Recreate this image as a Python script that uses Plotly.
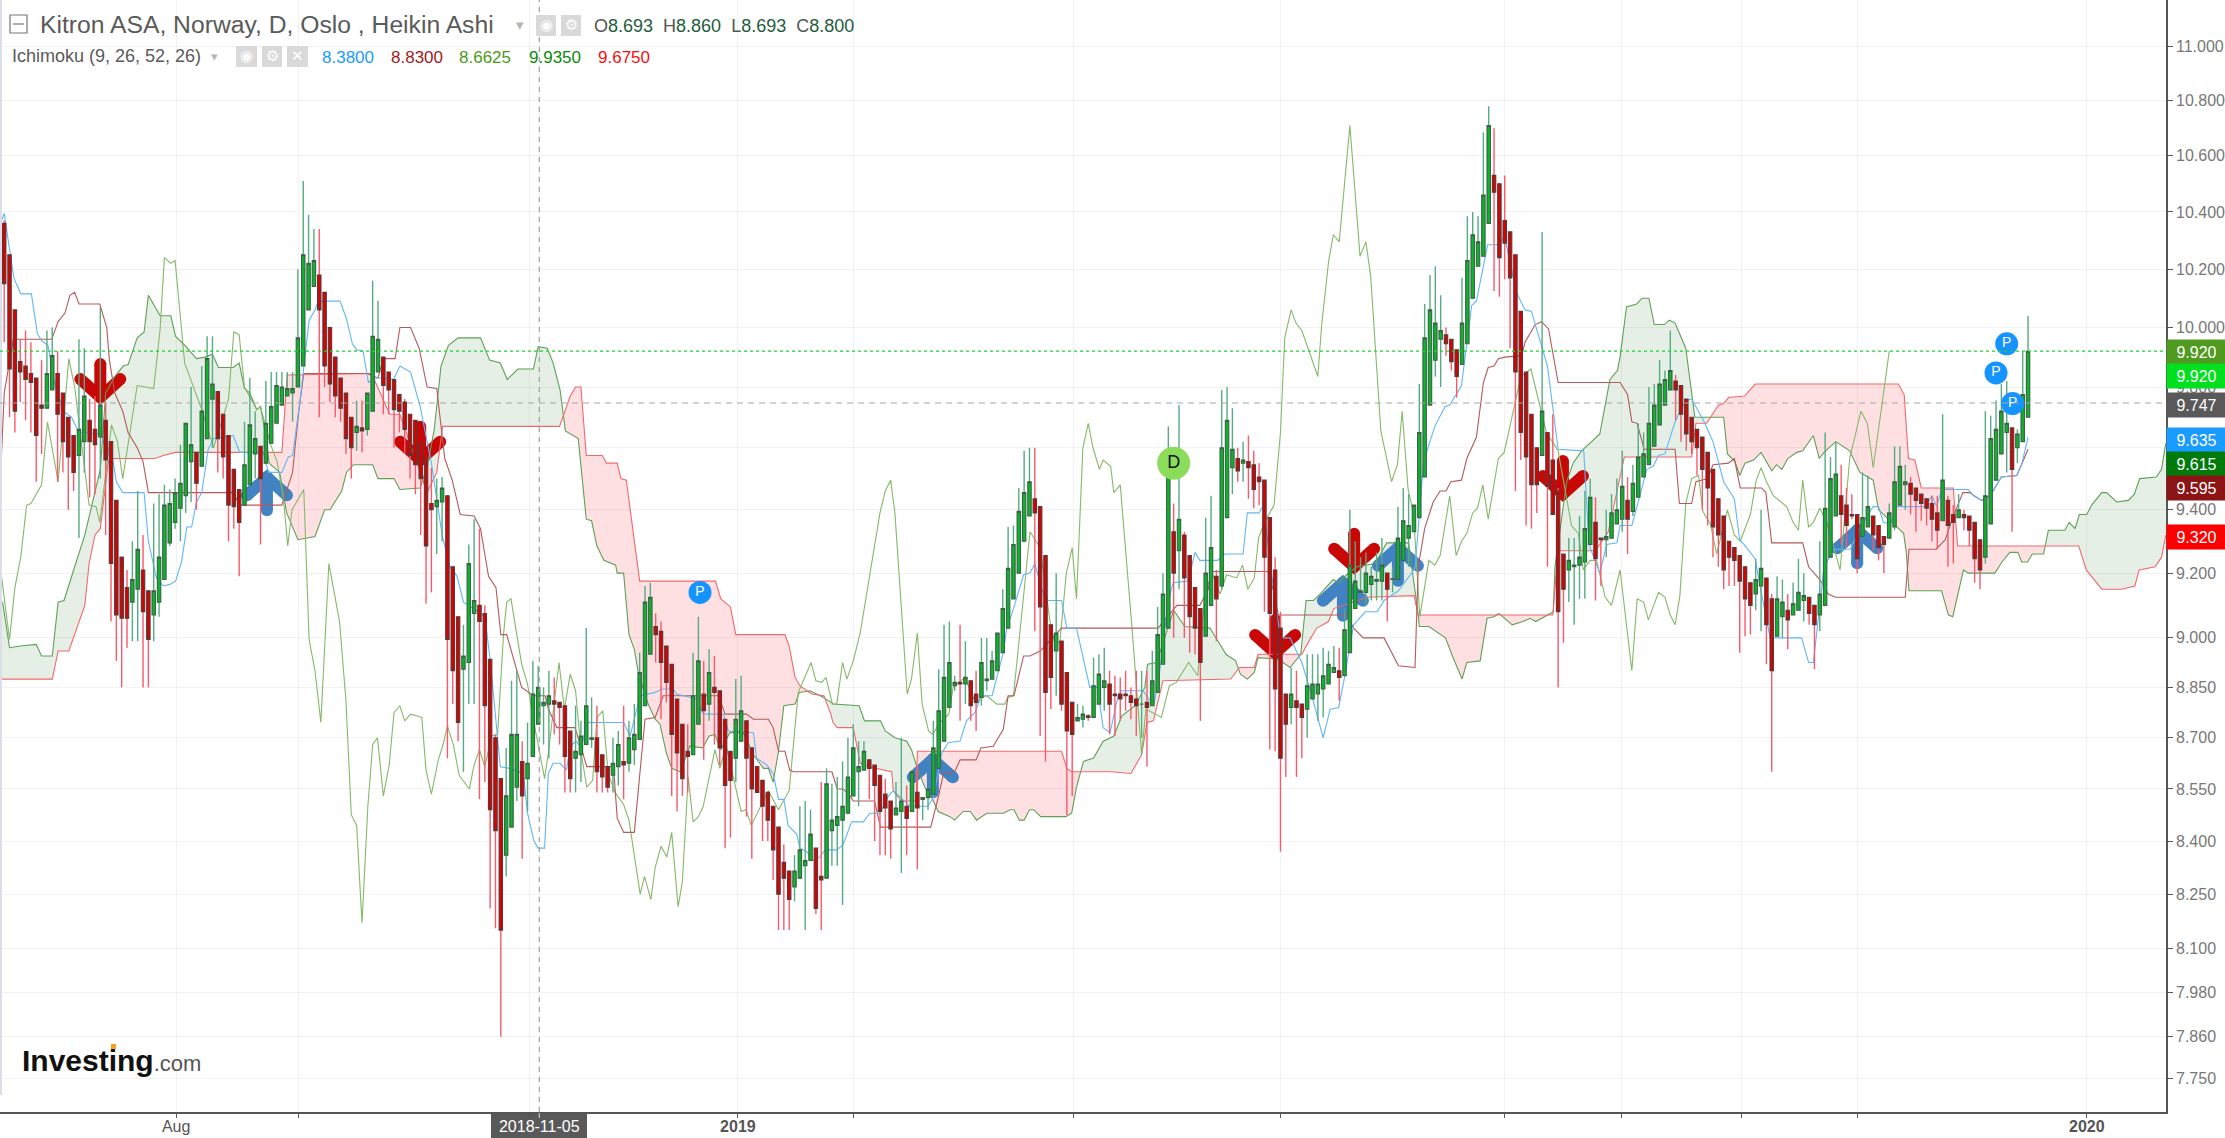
import math
import numpy as np
import plotly.graph_objects as go

# ---------- candle data: (open, high, low, close) ----------
bars_a = [(10.36,10.37,9.95,10.15),(10.25,10.25,9.70,9.86),(10.06,10.06,9.65,9.72),(9.885,9.96,9.75,9.85),(9.87,9.99,9.69,9.825),
(9.845,9.95,9.65,9.815),(9.83,9.83,9.49,9.64),(9.74,9.89,9.58,9.73),(9.73,9.99,9.73,9.845),(9.79,10.0,9.79,9.905),
(9.845,9.92,9.49,9.71),(9.78,9.78,9.52,9.62),(9.70,9.70,9.40,9.57),(9.64,9.64,9.46,9.52),(9.575,9.96,9.31,9.66),
(9.62,9.93,9.52,9.77),(9.69,9.76,9.44,9.62),(9.66,9.77,9.45,9.61),(9.635,10.07,9.5,9.74),(9.69,9.75,9.32,9.56),
(9.62,9.62,9.05,9.23),(9.43,9.43,8.93,9.07),(9.25,9.25,8.85,9.06),(9.155,9.21,8.97,9.06),(9.11,9.30,8.99,9.18),
(9.15,9.46,8.99,9.275),(9.21,9.32,8.85,9.08),(9.145,9.145,8.85,8.995),(9.07,9.42,8.99,9.145),(9.11,9.45,9.065,9.25),
(9.18,9.48,9.18,9.415),(9.295,9.465,9.285,9.42),(9.36,9.50,9.34,9.455),(9.405,9.61,9.30,9.485),(9.445,9.68,9.39,9.68),
(9.555,9.80,9.425,9.61),(9.585,9.585,9.40,9.485),(9.54,9.87,9.54,9.72),(9.63,9.97,9.63,9.895),(9.76,9.97,9.60,9.81),
(9.785,9.785,9.52,9.63),(9.71,9.71,9.50,9.57),(9.64,9.64,9.30,9.415),(9.53,9.53,9.34,9.41),(9.465,9.465,9.19,9.36),
(9.415,9.685,9.415,9.545),(9.48,9.83,9.48,9.675),(9.58,9.72,9.50,9.63),(9.605,9.605,9.29,9.50),(9.55,9.82,9.55,9.68),
(9.615,9.85,9.615,9.735),(9.68,9.85,9.68,9.805),(9.74,9.85,9.74,9.80),(9.77,9.85,9.77,9.795),(9.78,9.85,9.685,9.795),
(9.80,10.2,9.80,9.965),(9.87,10.51,9.87,10.25),(10.06,10.39,10.06,10.22),(10.14,10.34,10.14,10.23),(10.18,10.34,9.70,10.06),
(10.12,10.12,9.80,9.87),(10.0,10.0,9.75,9.81),(9.90,9.90,9.70,9.77),(9.83,9.83,9.685,9.73),(9.78,9.78,9.58,9.63),
(9.70,9.70,9.50,9.60),(9.65,9.755,9.59,9.67),(9.665,9.755,9.585,9.655),(9.66,9.78,9.64,9.78),(9.72,10.16,9.72,9.97),
(9.85,10.09,9.85,9.96),(9.90,9.90,9.71,9.805),(9.85,9.85,9.71,9.79),(9.825,9.825,9.60,9.725),(9.775,9.775,9.65,9.72),
(9.75,9.76,9.58,9.66)]
bars_b = [(9.71,9.71,9.50,9.575),(9.69,9.69,9.45,9.545),(9.615,9.615,9.32,9.50),(9.56,9.56,9.105,9.285),(9.42,9.535,9.14,9.40),
(9.41,9.50,9.26,9.43),(9.425,9.505,9.30,9.47),(9.445,9.445,8.64,8.995),(9.22,9.22,8.80,8.90),(9.065,9.065,8.69,8.745),
(8.905,9.04,8.60,8.945),(8.925,9.29,8.80,9.23),(9.075,9.37,8.80,9.115),(9.10,9.34,8.52,9.05),(9.075,9.10,8.57,8.795),
(8.935,8.935,8.21,8.49),(8.70,8.71,8.155,8.43),(8.58,8.58,7.86,8.15),(8.36,8.67,8.30,8.53),(8.44,8.87,8.44,8.71),
(8.555,8.90,8.515,8.71),(8.63,8.69,8.35,8.53),(8.58,8.745,8.485,8.625),(8.645,8.93,8.645,8.83),(8.74,8.915,8.74,8.85),
(8.795,8.85,8.68,8.805),(8.80,8.90,8.64,8.825),(8.81,8.88,8.71,8.80),(8.805,8.805,8.68,8.79),(8.795,8.795,8.54,8.645),
(8.72,8.72,8.54,8.58),(8.64,8.795,8.54,8.66),(8.65,8.75,8.57,8.705),(8.68,9.03,8.68,8.795),(8.695,8.82,8.67,8.70),
(8.70,8.795,8.54,8.60),(8.65,8.65,8.54,8.585),(8.615,8.615,8.54,8.555),(8.59,8.70,8.54,8.625),(8.615,8.72,8.56,8.68),
(8.63,8.795,8.52,8.62),(8.625,8.75,8.60,8.70),(8.665,8.80,8.62,8.71),(8.695,8.955,8.695,8.895),(8.795,9.16,8.795,9.11),
(8.95,9.17,8.95,9.125),(9.035,9.075,8.925,9.01),(9.02,9.05,8.755,8.925),(8.975,8.975,8.805,8.865),(8.92,8.92,8.53,8.71),
(8.815,8.815,8.485,8.655),(8.74,8.74,8.53,8.58),(8.66,8.74,8.54,8.645),(8.65,8.955,8.65,8.825),(8.74,9.065,8.74,8.93),
(8.83,8.93,8.635,8.78),(8.80,8.965,8.75,8.895),(8.85,8.945,8.68,8.835),(8.84,8.84,8.62,8.67),(8.755,8.755,8.38,8.56),
(8.66,8.66,8.41,8.575),(8.64,8.875,8.57,8.755),(8.69,8.885,8.69,8.78),(8.75,8.75,8.47,8.64),(8.67,8.67,8.35,8.55),
(8.615,8.615,8.54,8.54),(8.575,8.575,8.40,8.50),(8.54,8.54,8.40,8.46),(8.50,8.50,8.29,8.375),(8.44,8.44,8.15,8.25),
(8.34,8.39,8.15,8.295),(8.315,8.315,8.15,8.235),(8.27,8.36,8.23,8.315),(8.295,8.50,8.295,8.375),(8.33,8.515,8.15,8.345),
(8.345,8.49,8.345,8.42),(8.38,8.38,8.195,8.21)]
bars_c = [(8.30,8.57,8.15,8.29),(8.295,8.61,8.295,8.565),(8.43,8.565,8.33,8.46),(8.445,8.585,8.33,8.47),(8.46,8.63,8.22,8.50),
(8.48,8.70,8.48,8.585),(8.53,8.74,8.53,8.67),(8.60,8.69,8.50,8.615),(8.605,8.69,8.605,8.66),(8.635,8.635,8.52,8.61),
(8.62,8.62,8.40,8.56),(8.59,8.59,8.36,8.485),(8.535,8.58,8.36,8.495),(8.515,8.515,8.35,8.435),(8.475,8.57,8.475,8.495),
(8.485,8.70,8.31,8.515),(8.50,8.56,8.36,8.465),(8.485,8.60,8.485,8.60),(8.54,8.62,8.32,8.495),(8.52,8.525,8.46,8.525),
(8.525,8.55,8.49,8.55),(8.535,8.75,8.535,8.67),(8.61,8.905,8.61,8.78),(8.69,9.04,8.69,8.88),(8.79,9.05,8.79,8.925),
(8.855,8.885,8.84,8.865),(8.865,9.04,8.75,8.86),(8.86,8.99,8.80,8.88),(8.87,8.87,8.75,8.795),(8.83,8.90,8.72,8.805),
(8.82,9.00,8.795,8.925),(8.87,9.00,8.84,8.875),(8.875,8.96,8.875,8.93),(8.90,9.015,8.90,9.015),(8.955,9.15,8.955,9.09),
(9.03,9.345,9.03,9.215),(9.12,9.35,9.12,9.29),(9.2,9.47,9.2,9.395),(9.30,9.59,9.30,9.455),(9.38,9.60,9.38,9.49),
(9.435,9.60,9.02,9.39),(9.41,9.41,8.705,9.095),(9.255,9.255,8.63,8.835),(9.04,9.04,8.785,8.88),(8.96,9.2,8.825,9.015),
(8.99,8.99,8.78,8.80),(8.895,8.895,8.475,8.72),(8.805,8.805,8.53,8.71),(8.75,8.80,8.75,8.76),(8.755,8.795,8.73,8.77),
(8.765,8.77,8.75,8.76),(8.76,8.94,8.76,8.855),(8.80,8.95,8.80,8.89),(8.85,8.97,8.78,8.87),(8.86,8.90,8.71,8.80),
(8.83,8.885,8.705,8.825),(8.83,8.88,8.75,8.815),(8.83,8.90,8.78,8.825),(8.825,8.85,8.755,8.805),(8.815,8.90,8.705,8.795),
(8.80,8.90,8.70,8.80),(8.805,8.90,8.615,8.79),(8.795,8.96,8.795,8.87),(8.835,9.095,8.835,9.01),(8.92,9.2,8.92,9.135),
(9.03,9.67,9.03,9.505),(9.33,9.42,9.00,9.20),(9.27,9.74,9.15,9.37),(9.32,9.33,9.00,9.185),(9.255,9.255,8.955,9.065),
(9.155,9.155,8.95,9.03),(9.09,9.09,8.75,8.925),(9.005,9.375,9.005,9.2),(9.10,9.445,9.10,9.28),(9.19,9.21,8.99,9.12)]
bars_d = [(9.16,9.79,9.15,9.60),(9.375,9.80,9.375,9.69),(9.535,9.73,9.45,9.595),(9.565,9.60,9.49,9.525),(9.55,9.62,9.49,9.56),
(9.555,9.64,9.435,9.535),(9.545,9.59,9.405,9.465),(9.505,9.55,9.415,9.49),(9.495,9.495,9.08,9.25),(9.375,9.375,8.665,9.075),
(9.21,9.25,8.66,8.845),(9.03,9.08,8.37,8.64),(8.83,8.83,8.585,8.74),(8.79,8.91,8.74,8.83),(8.81,8.90,8.585,8.79),
(8.80,8.80,8.64,8.76),(8.785,8.95,8.70,8.855),(8.815,8.95,8.815,8.86),(8.83,8.95,8.75,8.86),(8.845,8.97,8.76,8.885),
(8.86,8.96,8.86,8.92),(8.895,8.975,8.895,8.91),(8.90,8.97,8.81,8.88),(8.885,9.09,8.885,9.025),(8.955,9.40,8.955,9.225),
(9.09,9.30,9.09,9.175),(9.14,9.25,9.14,9.145),(9.14,9.265,9.10,9.20),(9.165,9.22,9.115,9.19),(9.175,9.265,9.115,9.18),
(9.175,9.31,9.115,9.225),(9.20,9.20,9.05,9.15),(9.18,9.22,9.14,9.182),(9.18,9.41,9.18,9.31),(9.24,9.47,9.24,9.365),
(9.31,9.45,9.22,9.35),(9.33,9.415,9.33,9.415),(9.375,9.81,9.375,9.65),(9.505,10.08,9.505,9.965),(9.74,10.18,9.74,10.06),
(9.89,10.21,9.835,10.015),(9.96,10.11,9.80,9.99),(9.975,10.0,9.905,9.945),(9.96,9.96,9.855,9.885),(9.925,9.925,9.765,9.835),
(9.875,10.17,9.875,10.015),(9.945,10.385,9.945,10.23),(10.10,10.40,10.10,10.32),(10.21,10.385,10.21,10.295),(10.245,10.685,10.245,10.46),
(10.36,10.78,10.36,10.71),(10.53,10.70,10.125,10.47),(10.50,10.50,10.105,10.24),(10.37,10.53,10.165,10.29),(10.33,10.33,9.93,10.17),
(10.25,10.25,9.46,9.85),(10.055,10.055,9.56,9.65),(9.85,9.85,9.35,9.57),(9.71,9.71,9.34,9.48),(9.60,9.60,9.39,9.48),
(9.575,10.33,9.575,9.72),(9.65,9.65,9.22,9.475),(9.56,9.71,9.385,9.385),(9.46,9.47,8.85,9.08),(9.26,9.26,8.985,9.15),
(9.21,9.31,9.11,9.24),(9.22,9.31,9.04,9.225),(9.225,9.38,9.12,9.25),(9.235,9.46,9.12,9.34),(9.29,9.5,9.29,9.44),
(9.36,9.44,9.115,9.245),(9.31,9.31,9.16,9.305),(9.305,9.40,9.25,9.315),(9.31,9.45,9.31,9.39),(9.355,9.50,9.355,9.40)]
bars_e = [(9.37,9.59,9.33,9.475),(9.43,9.505,9.26,9.37),(9.395,9.545,9.38,9.485),(9.44,9.68,9.44,9.57),(9.505,9.65,9.505,9.58),
(9.545,9.80,9.545,9.68),(9.605,9.81,9.605,9.74),(9.675,9.89,9.675,9.81),(9.74,9.855,9.74,9.825),(9.79,9.99,9.79,9.855),
(9.82,9.84,9.69,9.79),(9.805,9.805,9.62,9.71),(9.76,9.76,9.59,9.645),(9.70,9.70,9.58,9.62),(9.66,9.66,9.51,9.60),
(9.635,9.635,9.40,9.53),(9.585,9.585,9.35,9.47),(9.53,9.53,9.25,9.345),(9.435,9.435,9.22,9.32),(9.38,9.38,9.15,9.21),
(9.30,9.30,9.16,9.25),(9.28,9.28,9.16,9.24),(9.255,9.255,8.955,9.175),(9.22,9.22,9.005,9.12),(9.17,9.17,9.01,9.10),
(9.135,9.245,9.085,9.18),(9.16,9.40,9.02,9.215),(9.185,9.185,8.92,9.04),(9.12,9.135,8.60,8.90),(9.005,9.19,9.005,9.12),
(9.065,9.18,9.00,9.11),(9.085,9.135,8.965,9.055),(9.07,9.17,9.07,9.105),(9.085,9.245,9.085,9.14),(9.115,9.20,9.05,9.13),
(9.125,9.125,9.04,9.075),(9.10,9.10,8.905,9.04),(9.07,9.30,9.02,9.135),(9.10,9.65,9.10,9.405),(9.25,9.57,9.25,9.50),
(9.38,9.62,9.38,9.515),(9.445,9.545,9.29,9.385),(9.415,9.47,9.28,9.35),(9.385,9.45,9.37,9.38),(9.385,9.385,9.20,9.245),
(9.315,9.52,9.315,9.375),(9.345,9.51,9.345,9.41),(9.38,9.38,9.27,9.32),(9.35,9.35,9.24,9.28),(9.315,9.315,9.20,9.29),
(9.31,9.42,9.31,9.39),(9.345,9.605,9.335,9.49),(9.415,9.605,9.415,9.54),(9.48,9.545,9.40,9.49),(9.485,9.505,9.385,9.45),
(9.47,9.47,9.33,9.43),(9.45,9.45,9.365,9.42),(9.435,9.435,9.35,9.405),(9.42,9.445,9.30,9.37),(9.39,9.445,9.275,9.335),
(9.365,9.71,9.365,9.495),(9.43,9.445,9.22,9.35),(9.385,9.415,9.23,9.36),(9.375,9.45,9.375,9.40),(9.385,9.40,9.335,9.375),
(9.38,9.38,9.285,9.335),(9.36,9.36,9.17,9.245),(9.305,9.305,9.15,9.21),(9.25,9.72,9.23,9.445),(9.355,9.705,9.355,9.63),
(9.495,9.755,9.495,9.66),(9.58,9.81,9.58,9.72),(9.65,9.82,9.52,9.68),(9.665,9.665,9.33,9.53),(9.60,9.66,9.55,9.645),
(9.62,9.92,9.62,9.775),(9.70,10.04,9.70,9.92)]

# ---------- ichimoku lines: (bar number, price) ----------
tenkan = [(-0.5,10.37),(0,10.395),(1.8,10.17),(3.1,10.115),(5.1,10.115),(6.2,9.98),(7,9.955),(8.2,9.94),(9.2,9.83),(11,9.72),(12.6,9.70),(14,9.65),(18,9.645),(19.2,9.595),
(20.4,9.555),(21,9.49),(22.2,9.455),(26.2,9.455),(27,9.30),(28.5,9.185),(29.8,9.16),(31,9.165),(32.1,9.175),(33.2,9.235),(34.2,9.345),(35.1,9.345),(36,9.425),(37,9.455),(38.2,9.595),(39.2,9.63),(42.9,9.64),(44.1,9.585),(48.5,9.585),(49.5,9.52),(52,9.52),(53.2,9.57),(54,9.575),(55.4,9.755),(57.1,10.025),(58.2,10.06),(58.8,10.09),(62.9,10.09),(64.1,10.03),(65.2,9.945),(66,9.925),(67.2,9.92),(68.2,9.815),(69.4,9.83),(72,9.83),(72.9,9.825),(74.1,9.87),(76.1,9.85),(77.9,9.735),(80,9.55),(82,9.32),
(83.5,9.22),(84.8,9.19),(86,9.11),(87.9,9.09),(90,9.065),(91,8.935),(91.9,8.785),(92.9,8.615),(94.7,8.61),(97.2,8.595),(98,8.48),(99.2,8.40),(100,8.38),(101.2,8.38),(101.9,8.595),(102.8,8.625),(104.1,8.625),(105.3,8.605),(106,8.675),(107.1,8.69),(108.1,8.67),(109.1,8.745),(116,8.745),(117.2,8.705),(119.1,8.825),(121.9,8.835),(123.2,8.845),(125.3,8.845),(125.9,8.83),(129.7,8.815),(130.9,8.77),(134.7,8.77),(135.6,8.72),(140.3,8.715),(140.9,8.64),(142.8,8.62),(144,8.595),(145,8.52),(146,8.52),(146.8,8.445),(148.4,8.42),(149,8.38),(150.3,8.37),(151.5,8.345),
(152.8,8.355),(153.7,8.375),(155.9,8.375),(157.1,8.39),(158.7,8.455),(160.9,8.455),(162.1,8.48),(164,8.48),(165.6,8.53),(166.5,8.545),(169.6,8.50),(173,8.50),(174,8.525),(175.6,8.655),(176.8,8.685),(179,8.69),(180.2,8.75),(181.8,8.775),(183,8.825),(185,8.825),(186.2,8.90),(187.1,8.955),(187.7,9.025),(189.1,9.095),(190.9,9.195),(192.1,9.20),(193,9.23),(194.3,9.15),(195.3,9.115),(198,9.115),(199,9.03),(200.8,9.03),(203.3,8.85),(204.7,8.85),(205.8,8.73),(207.1,8.715),(208.6,8.825),(209.3,8.84),(213.3,8.84),(215.2,8.795),(216.1,8.86),(218,9.115),(218.9,9.17),(221.7,9.175),(223,9.265),(223.9,9.24),(227.2,9.24),(228.6,9.26),(232,9.26),(232.8,9.39),(235,9.39),(235.8,9.415),(237.3,9.2),(239,9.0),(240.8,9.0),(243,8.925),(244.7,8.835),(247,8.70),(248.3,8.785),(249.9,8.79),(251,8.88),(252.7,9.04),(254.9,9.08),(257.1,9.08),(258.4,9.115),(261.1,9.145),(264.2,9.215),(265.8,9.555),(267.9,9.67),(269.8,9.735),(270.7,9.74),(272.9,9.805),(274.8,10.075),(275.7,10.09),(277.8,10.285),(279.5,10.285),(281,10.31),(283.2,10.12),(284.8,10.06),(286,10.055),(289,9.87),(291,9.595),(295.8,9.59),(296.6,9.34),(297,9.28),(298.8,9.20),(300.1,9.29),(302,9.295),
(302.6,9.35),(304.8,9.35),(306,9.425),(307.6,9.53),(308.8,9.54),(309.8,9.575),(311,9.58),(312.9,9.685),(314.9,9.755),(316,9.76),(318.2,9.69),(320,9.62),(322,9.49),(324,9.435),(325,9.305),(325.8,9.29),(327.9,9.245),(328.8,9.16),(330.7,9.0),(336.6,9.0),(337.9,8.925),(338.8,8.925),(340.8,9.22),(342.6,9.275),(345.7,9.275),(348.8,9.38),(350,9.41),(351,9.41),(351.9,9.36),(353.2,9.355),(354.4,9.41),(359.7,9.41),(361,9.445),(361.9,9.41),(362.8,9.465),(367.8,9.465),(368.8,9.445),(370.3,9.43),(371.9,9.445),(374,9.505),(376.9,9.51),(377.8,9.545),(379,9.635)]

kijun = [(-0.5,9.58),(0,9.78),(1.7,9.96),(8.9,9.96),(10.1,10.02),(11.4,10.05),(12.3,10.11),(13.2,10.12),(14,10.08),(17.9,10.08),(19.2,10.0),(19.7,9.89),(20.7,9.78),(22.2,9.72),(23.2,9.65),(24.9,9.60),(26,9.555),(27,9.455),(42.9,9.455),(44.1,9.415),(52,9.415),(54,9.52),(55.1,9.71),(56.1,9.845),(67.9,9.845),(70,9.83),(71,9.895),(73.2,9.895),(74.1,10.0),(76.1,10.0),(77.7,9.93),(79.2,9.80),(81,9.795),(82.5,9.565),(83.9,9.495),(85.4,9.385),(88,9.38),(89.2,9.34),(90.7,9.19),(92.1,9.155),(93,9.01),(94.1,9.01),(96.9,8.85),(99.1,8.825),(101.3,8.825),(101.9,8.785),(103.5,8.73),(106.9,8.73),(109.1,8.615),(114.1,8.615),(114.8,8.465),(116,8.425),(118,8.425),(120,8.755),(121.9,8.76),(123.4,8.825),(133.8,8.825),(135,8.77),(139,8.77),(140.3,8.755),(143.1,8.755),(144,8.73),(145,8.66),(146.2,8.66),(147.1,8.605),(147.8,8.60),(155,8.60),(156,8.55),(157.1,8.55),(158.4,8.53),(159,8.515),(163,8.515),(164.1,8.44),(173.5,8.44),(174.9,8.525),(175.9,8.595),(178,8.60),(179,8.635),(182,8.635),(182.9,8.67),(185.2,8.675),(187.1,8.725),(188,8.825),(189.1,8.825),(190.9,8.945),(192.1,8.945),(194,8.96),(198,9.03),(216.1,9.03),(218.6,9.08),(219.6,9.10),(223.9,9.10),(225.5,9.15),(226,9.205),(236.7,9.205),(237.7,9.145),(238.6,9.07),(251.4,9.07),(252.7,9.03),(254.5,9.0),(258.4,9.0),(261.1,8.915),(264.2,8.91),(264.8,9.22),(266,9.34),(267.6,9.425),(268.9,9.46),(270,9.46),(270.9,9.49),(272.9,9.495),(273.9,9.565),(275.7,9.635),(277,9.815),(277.9,9.865),(279,9.87),(279.8,9.895),(281,9.90),(284.2,9.905),(284.8,9.95),(286.7,10.01),(287.9,10.02),(289.2,9.995),(291,9.815),(302.6,9.815),(304,9.775),(304.8,9.685),(305.8,9.68),(307.1,9.595),(312.9,9.595),(313.7,9.42),(316,9.42),(316.8,9.49),(319,9.50),(320,9.545),(322.9,9.55),(324,9.565),(325.1,9.47),(329.1,9.47),(329.9,9.455),(331,9.295),(336.8,9.295),(337.9,9.22),(340,9.18),(341.6,9.135),(342.9,9.125),(356,9.125),(356.7,9.275),(361.8,9.275),(363.5,9.305),(365,9.38),(366.8,9.455),(368,9.455),(369.7,9.435),(370.3,9.43),(371.9,9.445),(374,9.505),(376.9,9.51),(377.8,9.545),(379,9.595)]

chikou = [(-0.5,9.19),(1,8.995),(2,9.155),(3.1,9.25),(4.2,9.415),(5,9.42),(7,9.48),(8.1,9.685),(10.1,9.49),(12.1,9.895),(13.2,9.80),(15.9,9.415),(17.2,9.41),(17.9,9.36),(20.1,9.675),(21.2,9.62),(22.2,9.50),(24.2,9.735),(24.9,9.805),(28,9.795),(29.2,9.995),(30,10.24),(31.2,10.22),(32,10.23),(33.8,9.88),(37,9.725),(39.2,9.60),(42,9.76),(43,9.985),(44,9.975),(45,9.80),(47.3,9.725),(48,9.735),(49.8,9.615),(51.1,9.555),(52.3,9.435),(53.1,9.285),(53.9,9.40),(56.1,9.465),(57.1,8.995),(58.2,8.90),(59.3,8.745),(60.8,9.23),(62.8,9.05),(64,8.81),(65,8.475),(66,8.445),(67,8.17),(68.1,8.50),(69,8.68),(69.9,8.70),(71,8.53),(72.1,8.62),(73,8.775),(74.1,8.795),(75,8.75),(76.1,8.77),(77.2,8.765),(78.2,8.76),(79,8.605),(80,8.535),(81.3,8.635),(82.2,8.68),(83,8.735),(84.1,8.68),(85.2,8.59),(87.1,8.55),(88,8.62),(89,8.665),(90,8.615),(91.3,8.705),(92.4,8.71),(93.5,9.01),(94.1,9.11),(94.9,9.12),(96.9,8.92),(98,8.86),(99.2,8.745),(101.2,8.58),(101.9,8.655),(103.2,8.84),(103.9,8.925),(104.9,8.785),(106,8.89),(107,8.84),(108.1,8.65),(109.1,8.555),(110.2,8.575),(111,8.76),(112.1,8.78),(113.1,8.595),(114.4,8.54),(116,8.505),(117,8.46),(119.1,8.25),(119.9,8.30),(121.1,8.235),(121.9,8.325),(123,8.385),(124.1,8.355),(125,8.425),(126.2,8.215),(127,8.285),(128.1,8.585),(129,8.455),(130,8.47),(130.9,8.50),(133.1,8.665),(134,8.61),(135.2,8.675),(138,8.485),(138.9,8.49),(139.9,8.445),(142,8.51),(143.1,8.545),(145,8.49),(147,8.545),(148.7,8.835),(150,8.885),(151.1,8.925),(152,8.87),(153.1,8.865),(153.9,8.88),(155.1,8.80),(155.9,8.80),(157,8.925),(157.8,8.875),(159,8.93),(160.3,9.015),(161.8,9.17),(164,9.39),(165,9.46),(166,9.495),(166.8,9.39),(168.1,9.055),(169.1,8.83),(169.9,8.875),(171,9.015),(171.9,8.80),(173.1,8.72),(173.9,8.71),(175,8.74),(176.9,8.77),(177.7,8.85),(179.9,8.88),(182,8.80),(182.9,8.82),(184,8.825),(185.9,8.80),(187.4,8.80),(187.9,8.82),(189,8.825),(190.9,9.13),(192.1,9.33),(194,9.28),(195.8,9.055),(196.8,8.975),(197.7,8.99),(198.9,9.2),(200,9.28),(200.8,9.12),(202,9.6),(203,9.68),(203.9,9.6),(205.1,9.53),(205.8,9.56),(207.2,9.54),(207.8,9.455),(209,9.48),(211.2,9.03),(213,8.65),(213.8,8.785),(216.7,8.76),(218.2,8.855),(219.5,8.865),(221.8,8.925),(223.5,8.885),(224.9,9.14),(226.2,9.2),(227.7,9.135),(228.9,9.195),(230.8,9.185),(231.9,9.225),(232.9,9.15),(234.1,9.185),(234.9,9.31),(236,9.36),(237.8,9.415),(239,9.65),(239.8,9.965),(241,10.06),(241.9,10.015),(243,9.99),(246,9.835),(246.7,10.005),(248,10.225),(248.9,10.32),(250,10.295),(252,10.71),(253.9,10.245),(255,10.295),(255.9,10.175),(257,9.87),(257.8,9.655),(259.8,9.49),(260.9,9.545),(261.8,9.72),(262.9,9.465),(263.9,9.39),(264.5,9.22),(265.1,9.065),(266.8,9.24),(267.9,9.225),(268.9,9.255),(270.7,9.445),(271.9,9.255),(272.9,9.30),(273.9,9.325),(275,9.39),(275.9,9.405),(276.9,9.48),(277.9,9.37),(279.8,9.565),(280.9,9.585),(282.6,9.725),(284,9.835),(285.9,9.86),(288.8,9.65),(290.1,9.615),(291,9.59),(293.5,9.35),(294.8,9.325),(295.7,9.21),(297,9.24),(298.2,9.24),(299.8,9.125),(301,9.10),(302.6,9.21),(304.8,8.90),(305.8,9.12),(307,9.11),(307.9,9.055),(309.8,9.14),(311,9.125),(312,9.07),(312.9,9.04),(313.8,9.13),(314.9,9.42),(316,9.50),(317.3,9.51),(318.1,9.395),(319.5,9.355),(320.7,9.26),(322.7,9.40),(324,9.32),(325.1,9.30),(327,9.385),(328.1,9.495),(329,9.535),(329.9,9.495),(331.3,9.445),(333.8,9.41),(335,9.36),(336,9.335),(336.8,9.495),(337.9,9.345),(338.8,9.36),(340,9.405),(341.3,9.36),(342.9,9.265),(343.8,9.21),(345.6,9.565),(347,9.665),(347.7,9.72),(348.9,9.68),(350,9.535),(351.9,9.775),(353,9.92)]

senkou_a = [(-0.3,9.11),(1,8.97),(3,8.975),(6,8.98),(7,8.945),(9,8.945),(10.1,9.11),(11.2,9.115),(13.2,9.22),(15.1,9.32),(18,9.53),(19,9.78),(20.7,9.835),(22.3,9.87),(23.2,9.875),(24.9,9.965),(26.2,9.985),(27,10.11),(29.2,10.04),(31.2,10.04),(32.1,9.97),(33.8,9.94),(36,9.895),(37.6,9.90),(39,9.91),(40.1,9.865),(42.9,9.865),(44,9.88),(45,9.795),(46,9.78),(47.3,9.725),(48,9.735),(49.1,9.63),(49.6,9.55),(51.6,9.52),(52.9,9.39),(55,9.305),(58.2,9.315),(60,9.40),(61,9.40),(63.2,9.46),(64.1,9.52),(65.4,9.545),(69,9.545),(70,9.50),(73,9.50),(74.1,9.465),(77.9,9.47),(79.2,9.54),(80.5,9.655),(81.8,9.87),(83.2,9.94),(85,9.965),(89.2,9.965),(90.9,9.89),(92.9,9.88),(94.2,9.825),(96.2,9.86),(99.1,9.86),(100,9.935),(101.7,9.93),(102.8,9.88),(104.1,9.79),(105.1,9.655),(107.5,9.63),(109,9.37),(110,9.365),(111,9.285),(112.3,9.24),(114.5,9.225),(114.8,9.2),(116,9.2),(117,9.01),(118,8.965),(118.8,8.89),(120.6,8.80),(121.9,8.755),(122.8,8.74),(124,8.655),(125,8.61),(126.6,8.60),(128.4,8.675),(130.8,8.67),(132,8.705),(133.1,8.71),(134.2,8.665),(135.2,8.695),(135.9,8.715),(138.4,8.715),(140.3,8.65),(142.2,8.61),(143.1,8.61),(144,8.57),(145,8.66),(146,8.795),(148.1,8.80),(148.9,8.835),(150.9,8.84),(152.8,8.825),(153.4,8.82),(155.3,8.80),(160.1,8.795),(161.1,8.75),(164.1,8.75),(165,8.72),(166.8,8.70),(169,8.69),(169.9,8.665),(170.9,8.615),(172.4,8.555),(173.7,8.525),(174.9,8.485),(177.1,8.47),(178,8.46),(179.6,8.485),(180.9,8.485),(182.1,8.46),(184,8.48),(187.1,8.48),(188.4,8.49),(189.1,8.49),(190.1,8.46),(191,8.46),(192,8.49),(192.8,8.49),(194.1,8.47),(198.8,8.47),(199.9,8.48),(200.8,8.555),(202.1,8.63),(204,8.64),(205.8,8.69),(207.8,8.705),(209.3,8.765),(211.8,8.795),(213.6,8.85),(214.1,8.92),(215.8,8.925),(219,9.085),(221.1,9.035),(225.8,9.03),(228.8,8.95),(230.6,8.93),(231.5,8.89),(232.8,8.875),(234.1,8.895),(234.8,8.94),(238.6,8.935),(240.8,8.91),(242.8,8.95),(243.8,9.115),(245.2,9.115),(246.4,9.135),(248.9,9.18),(249.8,9.17),(251.4,9.195),(253.3,9.22),(256.7,9.23),(258.9,9.295),(263,9.295),(264.8,9.07),(265,9.035),(266.8,9.035),(269.9,9.00),(271.2,8.945),(273,8.875),(273.9,8.925),(276.4,8.93),(277.7,9.06),(279,9.065),(279.9,9.075),(282.4,9.04),(284.4,9.05),(285.7,9.06),(286.8,9.05),(290.1,9.08),(290.4,9.22),(292.6,9.49),(293.8,9.55),(295.4,9.59),(298.8,9.645),(300.7,9.825),(302.1,9.855),(302.6,9.90),(303.8,10.07),(305.7,10.08),(306.7,10.10),(308,10.10),(309,10.01),(310.9,10.01),(311.8,10.025),(312.9,10.015),(314.9,9.93),(316.6,9.70),(322,9.70),(322.7,9.58),(324.1,9.555),(325,9.51),(326,9.55),(327.6,9.56),(329,9.585),(331,9.525),(331.9,9.545),(332.9,9.53),(334,9.565),(335.7,9.585),(336.8,9.59),(338.8,9.64),(339.9,9.565),(340.8,9.585),(343,9.62),(345.6,9.59),(347.5,9.52),(350,9.495),(351,9.40),(355.7,9.325),(356.2,9.265),(356.7,9.145),(362.8,9.145),(364.1,9.07),(364.9,9.065),(366.9,9.21),(367.8,9.20),(372.8,9.20),(374.1,9.235),(375.6,9.265),(377.1,9.265),(377.8,9.235),(378.9,9.235),(379.8,9.26),(381.9,9.26),(382.8,9.335),(385.9,9.335),(386.7,9.36),(387.8,9.34),(388.6,9.385),(390,9.385),(390.9,9.415),(392.8,9.455),(393.7,9.455),(395.6,9.425),(397.8,9.43),(398.9,9.45),(399.9,9.50),(403,9.505),(404,9.53),(404.5,9.585),(404.8,9.615)]

senkou_b = [(-0.5,8.875),(9,8.875),(10.1,8.96),(12.1,8.96),(15.1,9.10),(15.9,9.23),(17,9.32),(18,9.34),(19.5,9.555),(20.4,9.565),(28.2,9.565),(29.8,9.575),(32,9.585),(52,9.585),(53,9.84),(68.8,9.845),(72.2,9.71),(74.1,9.71),(79.2,9.455),(81,9.52),(82.1,9.67),(104,9.67),(105,9.72),(106,9.77),(107,9.80),(108,9.80),(109,9.575),(112,9.575),(112.8,9.55),(114.8,9.55),(115.5,9.50),(116.5,9.495),(119,9.175),(133.2,9.175),(134.2,9.12),(136,9.095),(137,9.01),(146.2,9.01),(147,8.975),(148.1,8.88),(149,8.855),(151.2,8.83),(153.5,8.825),(154.8,8.77),(155.2,8.745),(156,8.73),(159,8.73),(160.3,8.625),(161.8,8.615),(166.2,8.60),(166.5,8.545),(168,8.515),(170.8,8.515),(171,8.66),(198,8.66),(199,8.61),(199.9,8.60),(207.4,8.60),(211,8.595),(213,8.65),(214,8.745),(215.2,8.75),(217,8.87),(229.7,8.875),(231.3,8.91),(234.1,8.91),(234.8,8.95),(243,8.95),(244.7,9.0),(245.8,9.03),(248,9.05),(249,9.09),(255.2,9.125),(264,9.13),(264.8,9.07),(290,9.07),(291,9.27),(298,9.27),(300.4,9.33),(303.4,9.57),(316,9.57),(316.8,9.68),(318.8,9.68),(321,9.74),(322,9.745),(322.9,9.765),(325.9,9.77),(327.9,9.81),(354.7,9.81),(355.8,9.775),(356.6,9.565),(357.8,9.56),(359,9.47),(365,9.47),(365.8,9.285),(388.5,9.285),(389.9,9.21),(391.9,9.17),(392.8,9.15),(396.5,9.15),(399,9.16),(399.8,9.21),(402.8,9.22),(404,9.25),(404.8,9.32)]

# ---------- chart annotations ----------
down_i = [18, 77.9, 238, 252.8, 291.9]
down_price = [9.74, 9.535, 8.93, 9.195, 9.425]
up_i = [49.2, 173.9, 250.7, 261, 347]
up_price = [9.53, 8.66, 9.195, 9.305, 9.36]
p_i = [130.3, 373, 375, 376.1]
p_price = [9.14, 9.847, 9.945, 9.745]
d_i = [219]
d_price = [9.55]

y_tick_values = [11, 10.8, 10.6, 10.4, 10.2, 10, 9.8, 9.6, 9.4, 9.2, 9, 8.85, 8.7, 8.55, 8.4, 8.25, 8.1, 7.98, 7.86, 7.75]
x_tick_values = [32.2, 55.2, 98.4, 100.2, 137.4, 159.1, 200.3, 239.1, 281, 302.9, 325.3, 347, 390]
x_tick_labels = ["Aug", "", "", '<span style="color:white">2018-11-05</span>', "<b>2019</b>", "", "", "", "", "", "", "", "<b>2020</b>"]
badges = [("9.920", "#4f9a1f", 352), ("9.920", "#00e01e", 376), ("9.747", "#595959", 404.5), ("9.635", "#1a9bff", 440),
          ("9.615", "#007a0a", 463.5), ("9.595", "#8b1515", 488), ("9.320", "#ff0000", 537)]
legend_values = [("8.3800", "#1a9bff", 320), ("8.8300", "#a02020", 389), ("8.6625", "#4a9a1a", 457), ("9.9350", "#0a8a0a", 527), ("9.6750", "#f01010", 596)]

# ---------- geometry of the picture ----------
W, H = 2225, 1138
PLOT_W, PLOT_H = 2166, 1112
BAR_PX = 5.34
BAR0_PX = 4.2
LOG_PX = 2946.0
x_range = [(0 - BAR0_PX) / BAR_PX, (PLOT_W - BAR0_PX) / BAR_PX]
y_range = [math.log10(7.662), math.log10(11.176)]
FONT = "Liberation Sans"

bars = bars_a + bars_b + bars_c + bars_d + bars_e
idx = np.arange(len(bars))
o, h, l, c = [np.array(v, float) for v in zip(*bars)]
up = c >= o

def segs(ix, lo, hi):
    xs, ys = [], []
    for a, b, d in zip(ix, lo, hi):
        xs += [int(a), int(a), None]
        ys += [float(b), float(d), None]
    return xs, ys

def unzip(pairs):
    pairs = sorted(pairs)
    return [p[0] for p in pairs], [p[1] for p in pairs]

def cloud_polys(a, b):
    ax, ay = unzip(a)
    bx, by = unzip(b)
    g = np.array(sorted(set(ax) | set(bx)))
    la = np.interp(g, ax, np.log10(ay))
    lb = np.interp(g, bx, np.log10(by))
    gx, ga, gb = [g[0]], [la[0]], [lb[0]]
    for k in range(1, len(g)):
        d0, d1 = la[k-1] - lb[k-1], la[k] - lb[k]
        if d0 * d1 < 0:
            t = d0 / (d0 - d1)
            gx.append(g[k-1] + t * (g[k] - g[k-1]))
            m = la[k-1] + t * (la[k] - la[k-1])
            ga.append(m); gb.append(m)
        gx.append(g[k]); ga.append(la[k]); gb.append(lb[k])
    gx, ga, gb = map(np.array, (gx, ga, gb))
    out = {True: ([], []), False: ([], [])}
    start = 0
    def sign_at(i, j):
        return (ga[i] + ga[j]) >= (gb[i] + gb[j])
    s = sign_at(0, 1)
    for k in range(1, len(gx)):
        cur = sign_at(k-1, k)
        if cur != s or k == len(gx) - 1:
            end = k if k == len(gx) - 1 and cur == s else k - 1
            xs = list(gx[start:end+1]) + list(gx[start:end+1][::-1])
            ys = list(10 ** ga[start:end+1]) + list(10 ** gb[start:end+1][::-1])
            out[bool(s)][0].extend(xs + [None])
            out[bool(s)][1].extend(ys + [None])
            start, s = k - 1, cur
    return out

def py(px):
    return 1 - px / PLOT_H

def px_x(px):
    return px / PLOT_W

fig = go.Figure()

# cloud
polys = cloud_polys(senkou_a, senkou_b)
fig.add_trace(go.Scatter(x=polys[True][0], y=polys[True][1], mode="none", fill="toself", fillcolor="rgba(0,100,0,0.10)", hoverinfo="skip"))
fig.add_trace(go.Scatter(x=polys[False][0], y=polys[False][1], mode="none", fill="toself", fillcolor="rgba(255,0,20,0.12)", hoverinfo="skip"))

# arrows drawn under the candles, offsets given in screen pixels
def arrow(i0, price0, direction, color):
    sgn = 1 if direction == "down" else -1   # +1: arrow points down on screen
    tip = 8 * sgn
    def pt(dx, dy):
        return i0 + dx / BAR_PX, price0 * math.exp(-(dy - tip) / LOG_PX)
    pts = [pt(-20, -18 * sgn), pt(0, 0), pt(20, -18 * sgn), None, pt(0, -33 * sgn), pt(0, 0)]
    xs = [p[0] if p else None for p in pts]
    ys = [p[1] if p else None for p in pts]
    fig.add_trace(go.Scatter(x=xs, y=ys, mode="lines+markers", line=dict(color=color, width=12),
                             marker=dict(color=color, size=12), hoverinfo="skip", opacity=0.97))

for i0, p0 in zip(up_i, up_price):
    arrow(i0, p0, "up", "#3b7fc2")
for i0, p0 in zip(down_i, down_price):
    arrow(i0, p0, "down", "#c80000")

# ichimoku lines
for series, col, w in [(senkou_a, "#5f9f57", 1.1), (senkou_b, "#f2686c", 1.1), (chikou, "#86b86a", 1.1),
                       (kijun, "#b35a5a", 1.1), (tenkan, "#62b6f7", 1.1)]:
    xs, ys = unzip(series)
    fig.add_trace(go.Scatter(x=xs, y=ys, mode="lines", line=dict(color=col, width=w), hoverinfo="skip"))

# wicks
wx, wy = segs(idx[up], l[up], h[up])
fig.add_trace(go.Scatter(x=wx, y=wy, mode="lines", line=dict(color="#55ab83", width=1.4), hoverinfo="skip"))
wx, wy = segs(idx[~up], l[~up], h[~up])
fig.add_trace(go.Scatter(x=wx, y=wy, mode="lines", line=dict(color="#f9596b", width=1.4), hoverinfo="skip"))

# bodies live on an overlaying pair of axes, so they sit above the wicks and lines
fig.add_trace(go.Candlestick(x=idx, open=o, close=c, high=np.maximum(o, c), low=np.minimum(o, c),
                             xaxis="x2", yaxis="y2", whiskerwidth=0, hoverinfo="skip",
                             increasing=dict(line=dict(color="#3f5f48", width=1.1), fillcolor="#09b52b"),
                             decreasing=dict(line=dict(color="#553a3a", width=1.1), fillcolor="#d90000")))

fig.add_trace(go.Scatter(x=p_i, y=p_price, mode="markers+text", text=["P"] * len(p_i), xaxis="x2", yaxis="y2",
                         textposition="middle center", textfont=dict(family="Liberation Sans", size=14, color="white"),
                         marker=dict(size=23, color="#1593ff"), hoverinfo="skip"))
fig.add_trace(go.Scatter(x=d_i, y=d_price, mode="markers+text", text=["D"], xaxis="x2", yaxis="y2",
                         textposition="middle center", textfont=dict(family="Liberation Sans", size=18, color="#111"),
                         marker=dict(size=33, color="#8bdc5a"), hoverinfo="skip"))

shapes = [
    dict(type="rect", xref="paper", yref="paper", x0=0, x1=1, y0=py(1111), y1=py(1093), fillcolor="white", line_width=0, layer="between"),
    dict(type="rect", xref="paper", yref="paper", x0=0, x1=px_x(2), y0=py(1095), y1=py(0), fillcolor="#dcdfea", line_width=0, layer="above"),
    dict(type="line", xref="paper", yref="y", x0=0, x1=1, y0=9.92, y1=9.92, line=dict(color="#1fd42f", width=1.2, dash="dot")),
    dict(type="line", xref="paper", yref="y", x0=0, x1=1, y0=9.747, y1=9.747, line=dict(color="#a5a5a5", width=1.2, dash="6px,5px")),
    dict(type="line", xref="x", yref="paper", x0=100.2, x1=100.2, y0=0, y1=1, line=dict(color="#9a9a9a", width=1.1, dash="5px,5px")),
    # date badge under the crosshair, its label is the axis tick label
    dict(type="rect", xref="paper", yref="paper", x0=px_x(491), x1=px_x(587), y0=py(1138), y1=py(1113), fillcolor="#595959", line_width=0, layer="below"),
    dict(type="line", xref="x", yref="paper", x0=100.2, x1=100.2, y0=py(1118), y1=py(1113), line=dict(color="#dddddd", width=1)),
    # header icons
    dict(type="rect", xref="paper", yref="paper", x0=px_x(10), x1=px_x(27), y0=py(33), y1=py(15), fillcolor="white", line=dict(color="#777", width=1.2)),
    dict(type="line", xref="paper", yref="paper", x0=px_x(13), x1=px_x(24), y0=py(24), y1=py(24), line=dict(color="#777", width=1.2)),
]
for a, b, t, e in [(536, 556, 15, 36), (561, 581, 15, 36), (236, 257, 46, 67), (262, 282, 46, 67), (287, 308, 46, 67)]:
    shapes.append(dict(type="rect", xref="paper", yref="paper", x0=px_x(a), x1=px_x(b), y0=py(e), y1=py(t), fillcolor="#d9d9d9", line_width=0))
# orange accent of the logo
shapes.append(dict(type="rect", xref="paper", yref="paper", x0=px_x(111), x1=px_x(116), y0=py(1049), y1=py(1044), fillcolor="#f7a21b", line_width=0))

ann = []
def text(px, pyy, s, size, color, anchor="left", family=FONT, **kw):
    ann.append(dict(xref="paper", yref="paper", x=px_x(px), y=py(pyy), text=s, showarrow=False, xanchor=anchor, yanchor="middle",
                    font=dict(family=family, size=size, color=color), **kw))

text(38, 25, "Kitron ASA, Norway, D, Oslo , Heikin Ashi", 24.7, "#5a5a5a")
text(514, 25, "▾", 15, "#b5b5b5", family="DejaVu Sans")
G = '<span style="color:#555">%s</span><span style="color:#1e5c3c">%s</span>&#160;&#160;'
text(592, 26, G % ("O", "8.693") + G % ("H", "8.860") + G % ("L", "8.693") + G % ("C", "8.800"), 18, "#555")
text(10, 56, "Ichimoku (9, 26, 52, 26)", 18, "#5a5a5a")
text(209, 56, "▾", 13, "#b5b5b5", family="DejaVu Sans")
for v, col, x0 in legend_values:
    text(x0, 57, v, 17, col)
for cx, cy, g in [(546, 25, "◉"), (571, 25, "⚙"), (246, 56, "◉"), (272, 56, "⚙"), (297, 56, "✕")]:
    text(cx, cy, g, 15, "white", anchor="center", family="DejaVu Sans")

for v, col, cy in badges:
    ann.append(dict(xref="paper", yref="paper", x=1, y=py(cy), xanchor="left", yanchor="middle", text=v, showarrow=False,
                    width=59, height=24, bgcolor=col, align="center", borderpad=0, xshift=0,
                    font=dict(family=FONT, size=16, color="white")))
text(20, 1060, '<b>Investing</b><span style="font-size:22px;color:#555">.com</span>', 30, "#111")

fig.update_layout(
    width=W, height=H, autosize=False,
    margin=dict(l=0, r=W - PLOT_W, t=0, b=H - PLOT_H, pad=0, autoexpand=False),
    paper_bgcolor="white", plot_bgcolor="white", showlegend=False, boxgap=0.36, boxgroupgap=0, boxmode="overlay",
    xaxis=dict(range=x_range, tickmode="array", tickvals=x_tick_values, ticktext=x_tick_labels, showgrid=True, gridcolor="#f2f2f2", gridwidth=1.2,
               zeroline=False, showline=True, linecolor="#555", linewidth=1.6, ticks="outside", ticklen=4, tickcolor="#555", tickangle=0,
               ticklabelstandoff=-5, tickfont=dict(family=FONT, size=16, color="#555"), rangeslider=dict(visible=False)),
    yaxis=dict(type="log", range=y_range, side="right", tickmode="array", tickvals=y_tick_values,
               ticktext=["%.3f" % v for v in y_tick_values], showgrid=True, gridcolor="#f2f2f2", gridwidth=1.2, zeroline=False,
               showline=True, linecolor="#555", linewidth=1.6, ticks="outside", ticklen=5, tickcolor="#555",
               tickfont=dict(family=FONT, size=16, color="#777")),
    xaxis2=dict(range=x_range, overlaying="x", visible=False, rangeslider=dict(visible=False), matches=None),
    yaxis2=dict(type="log", range=y_range, overlaying="y", side="right", visible=False),
    shapes=shapes, annotations=ann,
)
fig.write_html("out.html", config={"displayModeBar": False},
               post_script="document.body.style.margin='0';document.body.style.background='white';")
